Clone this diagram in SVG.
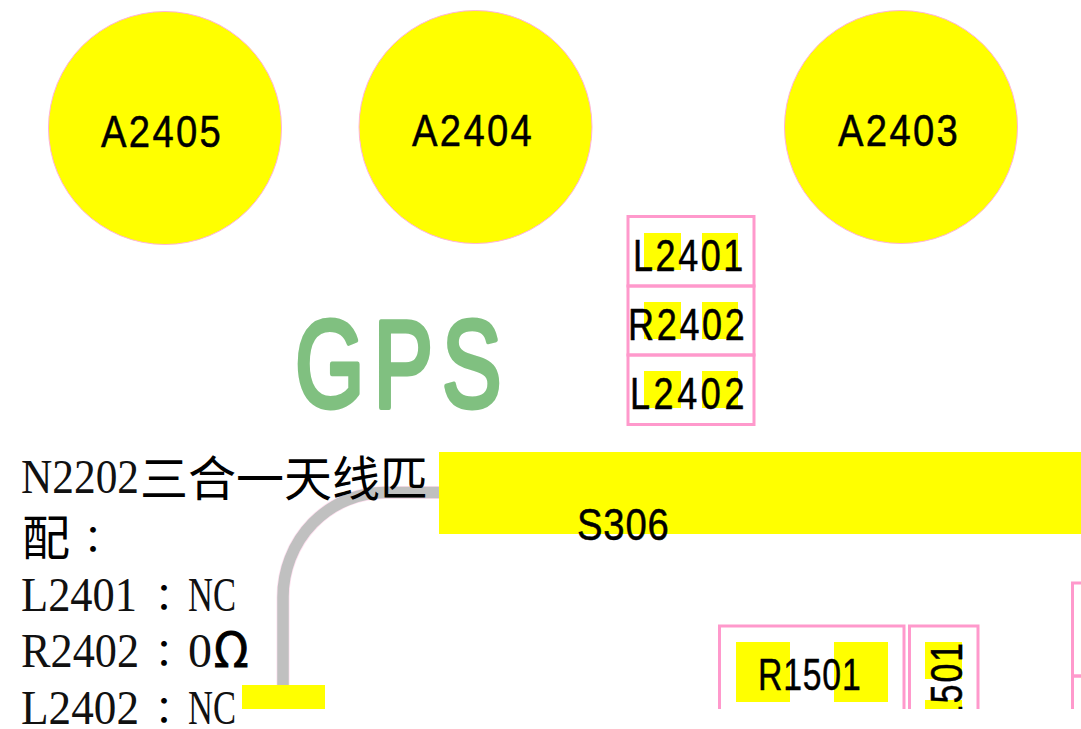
<svg xmlns="http://www.w3.org/2000/svg" width="1081" height="729" viewBox="0 0 1081 729">
<style>
.pad{fill:#ffff00}
.ant{fill:#ffff00;stroke:#ffb3d9;stroke-width:1}
.box{fill:none;stroke:#ff99cc;stroke-width:3}
.lb{font-family:"Liberation Sans",sans-serif;font-size:45px;fill:#000;stroke:#000;stroke-width:.5px}
.se{font-family:"Liberation Serif",serif;font-size:48px;fill:#111}
.cj{font-family:"Noto Sans CJK SC",sans-serif;font-size:48px;fill:#000}
.jp{font-family:"Noto Sans CJK JP",sans-serif;font-size:38px;fill:#000}
</style>
<defs><clipPath id="cut"><rect x="0" y="0" width="1081" height="709"/></clipPath></defs>
<rect width="1081" height="729" fill="#fff"/>
<g id="connectors"><path d="M439 492.500H385A102 104.500 0 0 0 283 597V686" fill="none" stroke="#ffe0f0" stroke-width="13"/><path d="M439 492.500H385A102 104.500 0 0 0 283 597V686" fill="none" stroke="#c0c0c0" stroke-width="11.500"/></g>
<g id="A2405"><circle class="ant" cx="165" cy="128" r="116.500"/><text class="lb" transform="translate(101 147) scale(.85 1)" textLength="141">A2405</text></g>
<g id="A2404"><circle class="ant" cx="475.500" cy="127" r="116.500"/><text class="lb" transform="translate(412 146) scale(.85 1)" textLength="141">A2404</text></g>
<g id="A2403"><circle class="ant" cx="901" cy="127" r="116.500"/><text class="lb" transform="translate(838 146) scale(.85 1)" textLength="141">A2403</text></g>
<g id="GPS"><text transform="translate(295 407) scale(.72 1)" textLength="287" font-family="Liberation Sans, sans-serif" font-size="124" fill="#80c080" stroke="#80c080" stroke-width="5" stroke-linejoin="round">GPS</text></g>
<g id="L2401"><rect class="pad" x="644" y="233" width="37" height="37"/><rect class="pad" x="702" y="233" width="36" height="37"/><rect class="box" x="628" y="216.500" width="126" height="69.500"/><text class="lb" transform="translate(633 271) scale(.8 1)" textLength="138">L2401</text></g>
<g id="R2402"><rect class="pad" x="644" y="302" width="37" height="37"/><rect class="pad" x="702" y="302" width="36" height="37"/><rect class="box" x="628" y="286" width="126" height="69"/><text class="lb" transform="translate(628 340) scale(.8 1)" textLength="146">R2402</text></g>
<g id="L2402"><rect class="pad" x="644" y="371" width="37" height="37"/><rect class="pad" x="702" y="371" width="36" height="37"/><rect class="box" x="628" y="355" width="126" height="69.500"/><text class="lb" transform="translate(630 409) scale(.8 1)" textLength="143">L2402</text></g>
<g id="S306"><rect class="pad" x="439" y="452" width="642" height="82"/><text class="lb" transform="translate(577 540) scale(.85 1)" textLength="108">S306</text></g>
<g id="pad-bottom"><rect class="pad" x="242" y="685" width="83" height="24"/></g>
<g id="note">
<text class="se" x="21" y="493" textLength="118" lengthAdjust="spacingAndGlyphs">N2202</text><text class="cj" x="140" y="496">三合一天线匹</text>
<text class="cj" x="22" y="555">配</text><text class="jp" x="74" y="553">：</text>
<text class="se" x="21" y="611" textLength="116" lengthAdjust="spacingAndGlyphs">L2401</text><text class="jp" x="145" y="611">：</text><text class="se" x="188" y="611" textLength="48" lengthAdjust="spacingAndGlyphs">NC</text>
<text class="se" x="21" y="667" textLength="118" lengthAdjust="spacingAndGlyphs">R2402</text><text class="jp" x="145" y="667">：</text><text class="se" x="188" y="667">0</text><text class="cj" x="213" y="667" font-size="40" stroke="#000" stroke-width=".8">Ω</text>
<text class="se" x="21" y="724" textLength="118" lengthAdjust="spacingAndGlyphs">L2402</text><text class="jp" x="145" y="724">：</text><text class="se" x="188" y="724" textLength="48" lengthAdjust="spacingAndGlyphs">NC</text>
</g>
<g clip-path="url(#cut)">
<g id="R1501"><rect class="pad" x="736" y="642" width="54" height="60"/><rect class="pad" x="834" y="642" width="54" height="60"/><rect class="box" x="719.500" y="626" width="184.500" height="100"/><text class="lb" transform="translate(758 690) scale(.75 1)" textLength="137">R1501</text></g>
<g id="part-1501"><rect class="pad" x="925" y="642" width="37" height="37"/><rect class="pad" x="925" y="700" width="37" height="30"/><rect class="box" x="909.500" y="626" width="68.500" height="100"/><text class="lb" transform="translate(962 724) rotate(-90) scale(.75 1)" textLength="108">1501</text></g>
<g id="part-right"><rect class="box" x="1072.500" y="583" width="20" height="93"/><rect class="box" x="1072.500" y="676" width="20" height="60"/></g>
</g>
</svg>
